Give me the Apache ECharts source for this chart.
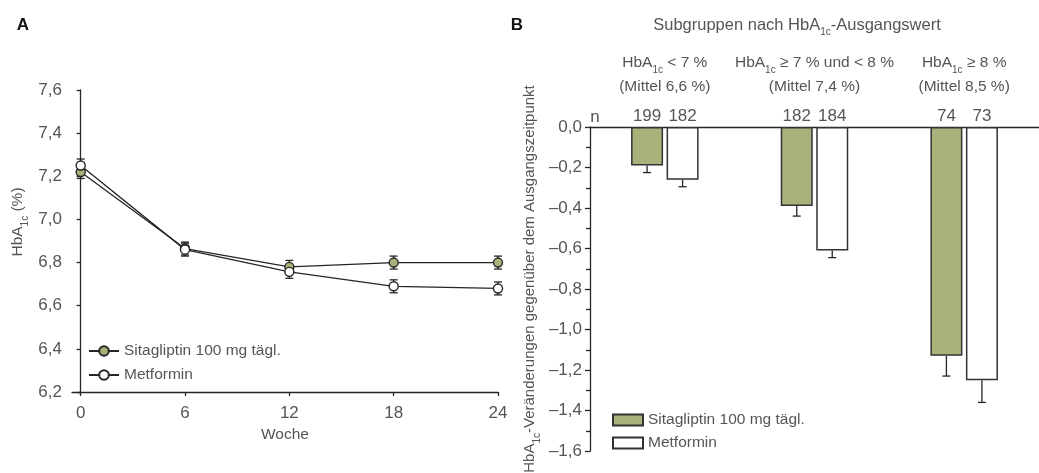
<!DOCTYPE html>
<html><head><meta charset="utf-8">
<script src="https://cdn.jsdelivr.net/npm/echarts@6/dist/echarts.min.js"></script>
<style>html,body{margin:0;padding:0;background:#fff}#c{width:1039px;height:473px}</style>
</head><body><div id="c"></div>
<script>
// ---- Data (panel A) ----
const weeks = [0, 6, 12, 18, 24];
const sitaMeanA = [7.22, 6.865, 6.78, 6.80, 6.80];
const sitaErrA = [0.03, 0.03, 0.03, 0.03, 0.03];
const metMeanA = [7.25, 6.86, 6.757, 6.69, 6.68];
const metErrA = [0.03, 0.03, 0.03, 0.03, 0.03];
// ---- Data (panel B) ----
const groupHead = ['< 7 %', '\u2265 7 % und < 8 %', '\u2265 8 %'];
const groupMean = ['(Mittel 6,6 %)', '(Mittel 7,4 %)', '(Mittel 8,5 %)'];
const sitaChangeB = [-0.19, -0.39, -1.13];
const sitaErrB = [0.035, 0.05, 0.10];
const metChangeB = [-0.26, -0.61, -1.25];
const metErrB = [0.035, 0.035, 0.11];
const nSita = [199, 182, 74];
const nMet = [182, 184, 73];
const seriesNames = ['Sitagliptin 100 mg t\u00e4gl.', 'Metformin'];
const barNames = ['sitaB', 'metB'];

const FONT = "'Liberation Sans', Arial, sans-serif";
const TXT = '#555';
const OLIVE = '#a8b27b';
const INK = '#262626';
const fmt = v => { const s = Math.abs(v).toFixed(1).replace('.', ','); return v < -1e-9 ? '\u2013' + s : s; };
function rich(size) {
  return {
    t: { fontSize: size, lineHeight: 24, color: TXT, fill: TXT, fontFamily: FONT },
    s: { fontSize: 10, lineHeight: 14, color: TXT, fill: TXT, fontFamily: FONT, verticalAlign: 'bottom' }
  };
}

function errA(params, api) {
  const x = api.value(0), y = api.value(1), e = api.value(2);
  const a = api.coord([x, y + e]), b = api.coord([x, y - e]);
  const w = 4, st = { stroke: INK, lineWidth: 1.3 };
  return { type: 'group', children: [
    { type: 'line', shape: { x1: a[0], y1: a[1], x2: b[0], y2: b[1] }, style: st },
    { type: 'line', shape: { x1: a[0] - w, y1: a[1], x2: a[0] + w, y2: a[1] }, style: st },
    { type: 'line', shape: { x1: b[0] - w, y1: b[1], x2: b[0] + w, y2: b[1] }, style: st }
  ]};
}
function errB(offset) {
  return function (params, api) {
    const c = api.value(0), v = api.value(1), e = api.value(2);
    const a = api.coord([c, v]), b = api.coord([c, v - e]);
    const x = a[0] + offset, w = 4, st = { stroke: INK, lineWidth: 1.3 };
    return { type: 'group', children: [
      { type: 'line', shape: { x1: x, y1: a[1], x2: x, y2: b[1] }, style: st },
      { type: 'line', shape: { x1: x - w, y1: b[1], x2: x + w, y2: b[1] }, style: st }
    ]};
  };
}

const chart = echarts.init(document.getElementById('c'), null, { renderer: 'canvas' });
const option = {
  backgroundColor: '#fff',
  animation: false,
  textStyle: { fontFamily: FONT, color: TXT },
  grid: [
    { left: 72, top: 90, width: 426, height: 302 },
    { left: 590, top: 127, width: 468, height: 324 }
  ],
  xAxis: [
    { type: 'value', gridIndex: 0, min: -0.5, max: 24,
      axisLine: { onZero: false, lineStyle: { color: INK, width: 1.3 } },
      axisTick: { show: true, length: 4, customValues: weeks, lineStyle: { color: INK, width: 1.3 } },
      axisLabel: { customValues: weeks, margin: 13, fontSize: 17, color: TXT },
      splitLine: { show: false } },
    { type: 'category', gridIndex: 1, position: 'top',
      data: groupHead.map((h, i) => '{t|HbA}{s|1c}{t| ' + h + '}\n{t|' + groupMean[i] + '}'),
      axisLine: { onZero: false, lineStyle: { color: INK, width: 1.3 } },
      axisTick: { show: false },
      axisLabel: { interval: 0, margin: 28, rich: rich(15.5) },
      splitLine: { show: false } }
  ],
  yAxis: [
    { type: 'value', gridIndex: 0, min: 6.2, max: 7.6, interval: 0.2,
      axisLine: { show: true, lineStyle: { color: INK, width: 1.3 } },
      axisTick: { show: true, length: 4, lineStyle: { color: INK, width: 1.3 } },
      axisLabel: { formatter: fmt, fontSize: 17, color: TXT, margin: 10 },
      splitLine: { show: false } },
    { type: 'value', gridIndex: 1, min: -1.6, max: 0, interval: 0.2,
      axisLine: { show: true, lineStyle: { color: INK, width: 1.3 } },
      axisTick: { show: true, length: 5, lineStyle: { color: INK, width: 1.3 } },
      minorTick: { show: true, splitNumber: 2, length: 4, lineStyle: { color: INK, width: 1.3 } },
      axisLabel: { formatter: fmt, fontSize: 17, color: TXT, margin: 8 },
      splitLine: { show: false } }
  ],
  legend: [
    { data: seriesNames, left: 83, top: 338, orient: 'vertical', itemWidth: 30, itemHeight: 12, itemGap: 8,
      textStyle: { fontSize: 15.5, color: TXT } },
    { data: barNames, left: 607, top: 407, orient: 'vertical', itemWidth: 30, itemHeight: 11, itemGap: 7,
      icon: 'rect', formatter: n => seriesNames[barNames.indexOf(n)],
      textStyle: { fontSize: 15.5, color: TXT } }
  ],
  series: [
    { type: 'custom', name: 'errSitaA', xAxisIndex: 0, yAxisIndex: 0, z: 1, renderItem: errA,
      data: weeks.map((w, i) => [w, sitaMeanA[i], sitaErrA[i]]) },
    { type: 'custom', name: 'errMetA', xAxisIndex: 0, yAxisIndex: 0, z: 1, renderItem: errA,
      data: weeks.map((w, i) => [w, metMeanA[i], metErrA[i]]) },
    { type: 'line', name: seriesNames[0], xAxisIndex: 0, yAxisIndex: 0, z: 3,
      data: weeks.map((w, i) => [w, sitaMeanA[i]]),
      symbol: 'circle', symbolSize: 9,
      lineStyle: { color: INK, width: 1.3 },
      itemStyle: { color: OLIVE, borderColor: INK, borderWidth: 1.4 } },
    { type: 'line', name: seriesNames[1], xAxisIndex: 0, yAxisIndex: 0, z: 4,
      data: weeks.map((w, i) => [w, metMeanA[i]]),
      symbol: 'circle', symbolSize: 9,
      lineStyle: { color: INK, width: 1.3 },
      itemStyle: { color: '#fff', borderColor: INK, borderWidth: 1.4 } },
    { type: 'bar', name: barNames[0], xAxisIndex: 1, yAxisIndex: 1, barWidth: 32, barGap: '11%', z: 2,
      data: sitaChangeB,
      itemStyle: { color: OLIVE, borderColor: '#333', borderWidth: 1.5 },
      label: { show: true, position: 'top', distance: 2, fontSize: 17, color: TXT,
        formatter: p => String(nSita[p.dataIndex]) } },
    { type: 'bar', name: barNames[1], xAxisIndex: 1, yAxisIndex: 1, barWidth: 32, barGap: '11%', z: 2,
      data: metChangeB,
      itemStyle: { color: '#fff', borderColor: '#333', borderWidth: 1.5 },
      label: { show: true, position: 'top', distance: 2, fontSize: 17, color: TXT,
        formatter: p => String(nMet[p.dataIndex]) } },
    { type: 'custom', name: 'errSitaB', xAxisIndex: 1, yAxisIndex: 1, z: 3, renderItem: errB(-17.75),
      data: sitaChangeB.map((v, i) => [i, v, sitaErrB[i]]) },
    { type: 'custom', name: 'errMetB', xAxisIndex: 1, yAxisIndex: 1, z: 3, renderItem: errB(17.75),
      data: metChangeB.map((v, i) => [i, v, metErrB[i]]) }
  ],
  graphic: [
    { type: 'text', x: 23, y: 25, style: { text: 'A', fontSize: 17, fontWeight: 'bold', fontFamily: FONT, fill: '#111', align: 'center', verticalAlign: 'middle' } },
    { type: 'text', x: 517, y: 25, style: { text: 'B', fontSize: 17, fontWeight: 'bold', fontFamily: FONT, fill: '#111', align: 'center', verticalAlign: 'middle' } },
    { type: 'text', x: 797, y: 25, style: { text: '{t|Subgruppen nach HbA}{s|1c}{t|-Ausgangswert}', align: 'center', verticalAlign: 'middle', rich: rich(16.5) } },
    { type: 'text', x: 18, y: 222, rotation: Math.PI / 2, style: { text: '{t|HbA}{s|1c}{t| (%)}', align: 'center', verticalAlign: 'middle', rich: rich(15.5) } },
    { type: 'text', x: 285, y: 435, style: { text: 'Woche', fontSize: 15.5, fontFamily: FONT, fill: TXT, align: 'center', verticalAlign: 'middle' } },
    { type: 'text', x: 530, y: 279, rotation: Math.PI / 2, style: { text: '{t|HbA}{s|1c}{t|-Ver\u00e4nderungen gegen\u00fcber dem Ausgangszeitpunkt}', align: 'center', verticalAlign: 'middle', rich: rich(15) } },
    { type: 'text', x: 595, y: 117, style: { text: 'n', fontSize: 17, fontFamily: FONT, fill: TXT, align: 'center', verticalAlign: 'middle' } }
  ]
};
chart.setOption(option);
</script>
</body></html>
